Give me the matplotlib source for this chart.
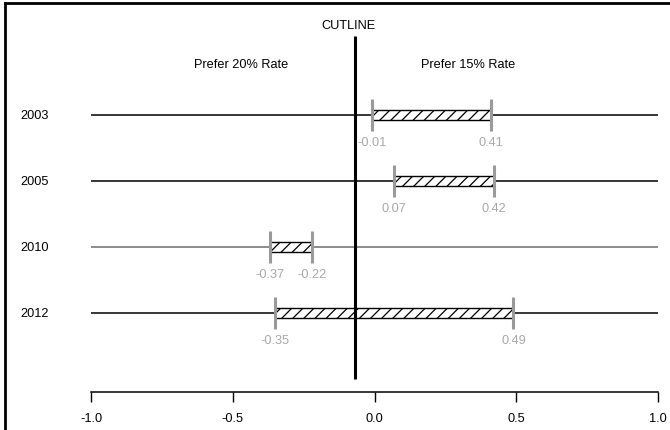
import matplotlib
matplotlib.use('Agg')
import matplotlib.pyplot as plt
from matplotlib.lines import Line2D

plt.rc('font', family=['Liberation Sans', 'DejaVu Sans'])
plt.rc('font', size=9.2)
plt.rc('hatch', linewidth=0.9)

# data
years = ['2003', '2005', '2010', '2012']
lows = [-0.01, 0.07, -0.37, -0.35]
highs = [0.41, 0.42, -0.22, 0.49]
low_labels = ['-0.01', '0.07', '-0.37', '-0.35']
high_labels = ['0.41', '0.42', '-0.22', '0.49']
cutline = -0.07
row_colors = ['black', 'black', '#6e6e6e', 'black']

W, H = 670, 431
fig = plt.figure(figsize=(W / 100, H / 100), dpi=100)
ax = fig.add_axes([91 / W, (H - 393) / H, (658 - 91) / W, (393 - 10) / H])

ypos = [4, 3, 2, 1]
for y, yr, lo, hi, llab, hlab, c in zip(ypos, years, lows, highs,
                                         low_labels, high_labels, row_colors):
    ax.hlines(y, -1, 1, color=c, lw=1.1, zorder=1)
    ax.barh(y, hi - lo, left=lo, height=0.15, facecolor='white',
            edgecolor='black', hatch='///', lw=1.0, zorder=3)
    ax.vlines([lo, hi], y - 0.24, y + 0.24, color='#9a9a9a', lw=2.2, zorder=4)
    ax.text(lo, y - 0.41, llab, ha='center', va='center', color='#a8a8a8')
    ax.text(hi, y - 0.41, hlab, ha='center', va='center', color='#a8a8a8')
    ax.text(-1.25, y, yr, ha='left', va='center', clip_on=False)

ax.vlines(cutline, 0, 5.2, color='black', lw=2.2, zorder=5)
ax.text(cutline - 0.02, 5.36, 'CUTLINE', ha='center', va='center')
ax.text(-0.47, 4.77, 'Prefer 20% Rate', ha='center', va='center')
ax.text(0.33, 4.77, 'Prefer 15% Rate', ha='center', va='center')

ax.set_xlim(-1.0, 1.0)
ax.set_ylim(-0.197, 5.606)
ax.set_xticks([-1.0, -0.5, 0.0, 0.5, 1.0])
ax.set_xticklabels(['-1.0', '-0.5', '0.0', '0.5', '1.0'])
ax.set_yticks([])
for s in ['top', 'right', 'left']:
    ax.spines[s].set_visible(False)
ax.spines['bottom'].set_linewidth(1.1)
ax.tick_params(axis='x', length=7.2, width=1.0, pad=7, direction='out')

# outer frame of the image (top and left edges only are visible)
fig.add_artist(Line2D([5 / W, 1.0], [1 - 4 / H, 1 - 4 / H], transform=fig.transFigure,
                      color='black', lw=2))
fig.add_artist(Line2D([5 / W, 5 / W], [0, 1 - 4 / H], transform=fig.transFigure,
                      color='black', lw=2))

fig.savefig('out.png', dpi=100)
